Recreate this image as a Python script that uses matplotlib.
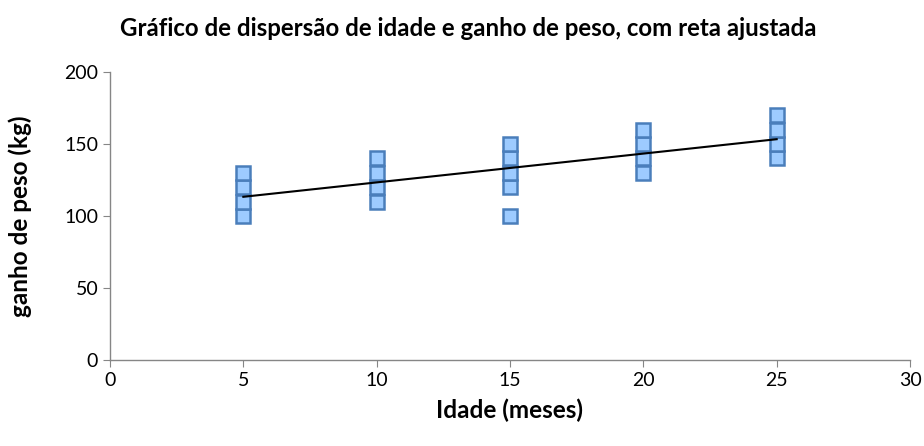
import matplotlib
matplotlib.use("Agg")
import matplotlib.pyplot as plt
import numpy as np

# data
idade = [5, 5, 5, 5,
         10, 10, 10, 10,
         15, 15, 15, 15, 15,
         20, 20, 20, 20,
         25, 25, 25, 25]
ganho = [100, 110, 120, 130,
         110, 120, 130, 140,
         100, 120, 130, 140, 150,
         130, 140, 150, 160,
         140, 150, 160, 170]

titulo = "Gráfico de dispersão de idade e ganho de peso, com reta ajustada"
xlabel = "Idade (meses)"
ylabel = "ganho de peso (kg)"
xticks = [0, 5, 10, 15, 20, 25, 30]
yticks = [0, 50, 100, 150, 200]

plt.rcParams['font.family'] = ['Lato', 'DejaVu Sans']

fig = plt.figure(figsize=(9.24, 4.46), dpi=100)
ax = fig.add_axes([110 / 924, 1 - 360 / 446, 800 / 924, 288 / 446])

ax.plot(idade, ganho, linestyle='none', marker='s', markersize=10,
        markerfacecolor='#9DCBFF', markeredgecolor='#4A7EBB', markeredgewidth=1.8)

# fitted line
coef = np.polyfit(idade, ganho, 1)
xs = np.array([min(idade), max(idade)])
ax.plot(xs, np.polyval(coef, xs), color='black', linewidth=1.5)

ax.set_xlim(0, 30)
ax.set_ylim(0, 200)
ax.set_xticks(xticks)
ax.set_yticks(yticks)

for s in ['top', 'right']:
    ax.spines[s].set_visible(False)
for s in ['left', 'bottom']:
    ax.spines[s].set_color('#868686')
    ax.spines[s].set_linewidth(1)
ax.tick_params(axis='both', colors='#868686', labelcolor='black', labelsize=14,
               length=5, direction='out')

ax.set_xlabel(xlabel, fontsize=17.5, fontweight='bold')
ax.set_ylabel(ylabel, fontsize=17.5, fontweight='bold')
ax.xaxis.set_label_coords(0.5, -0.135)
ax.yaxis.set_label_coords(-0.097, 0.5)
fig.text(468 / 924, 1 - 28 / 446, titulo, fontsize=17.3, fontweight='bold',
         ha='center', va='center')

fig.savefig("out.png", dpi=100)
